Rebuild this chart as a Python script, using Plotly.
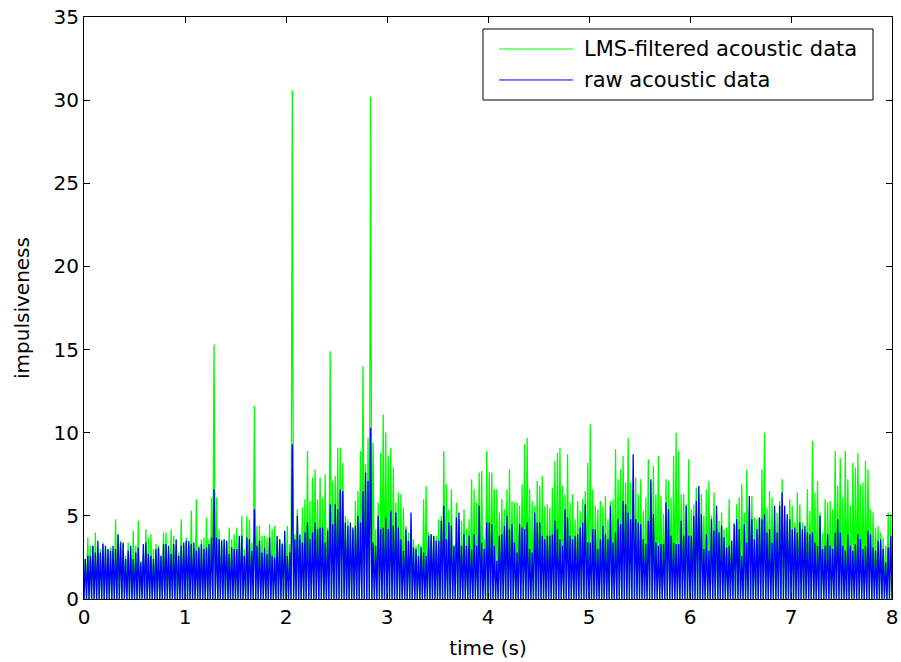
import plotly.graph_objects as go

# ---- data (peak impulsiveness per 0.025 s frame) ----
frames_per_second = 40
duration_s = 8

lms_filtered = [
    2.4,3.7,3.2,3.2,4.0,2.8,3.0,3.4,3.0,3.0, 3.1,2.9,4.8,3.8,3.5,3.3,2.6,3.4,2.6,4.1,
    3.2,4.7,2.3,2.7,4.2,3.7,3.9,3.0,3.3,3.2, 2.6,4.0,4.0,2.9,4.2,3.8,3.2,2.8,4.8,3.2,
    3.7,3.2,5.3,3.0,6.0,3.2,3.6,3.7,4.9,3.6, 6.1,15.3,6.1,4.2,3.6,3.5,3.4,4.3,3.6,3.9,
    4.3,3.2,5.0,3.0,5.0,4.8,3.4,11.6,4.4,4.4, 3.8,3.8,3.7,4.5,4.2,4.4,3.4,3.6,3.4,3.3,
    4.4,3.3,30.6,3.9,5.4,3.6,5.5,6.0,8.9,5.9, 7.3,7.8,6.0,7.3,6.1,7.5,4.3,14.9,7.1,7.4,
    9.1,9.1,8.2,5.0,4.8,4.4,4.2,5.9,6.5,8.9, 14.0,8.1,9.7,30.2,9.4,4.2,5.8,8.8,11.1,10.0,
    8.6,9.1,7.9,5.8,6.4,6.3,5.5,4.4,4.0,3.5, 3.6,3.2,3.3,3.2,6.0,6.8,4.0,3.9,3.8,3.8,
    4.8,5.0,8.9,6.9,5.4,6.6,3.2,5.8,4.8,4.7, 5.4,4.2,4.8,7.2,6.6,5.8,7.6,7.7,3.6,8.9,
    7.6,7.6,6.6,6.6,5.2,6.0,5.4,6.6,7.8,5.9, 5.8,5.8,5.6,6.9,9.3,9.7,6.6,5.9,5.6,7.1,
    6.8,7.4,5.6,5.7,5.5,6.7,8.3,8.8,9.1,6.8, 6.3,8.7,5.8,6.3,4.8,5.9,5.3,6.0,6.5,8.2,
    10.5,6.6,5.6,5.4,5.9,5.6,6.2,4.8,5.9,6.0, 9.0,7.2,7.8,8.6,7.0,9.7,7.0,6.5,7.3,6.3,
    7.2,5.3,6.1,8.4,7.0,8.0,6.3,8.6,6.2,5.1, 7.2,7.1,6.1,8.6,10.0,8.9,6.3,6.3,5.7,8.4,
    5.4,5.7,6.7,6.2,6.3,5.0,6.6,7.1,5.0,6.4, 5.2,4.7,5.2,4.2,4.3,6.0,3.5,4.6,5.7,6.1,
    6.9,5.2,7.8,5.5,6.2,4.9,4.8,4.9,7.8,10.0, 5.5,6.5,6.1,4.7,5.2,5.9,7.2,4.8,4.8,6.0,
    5.6,4.6,6.4,5.7,4.6,4.2,6.6,5.3,9.5,6.4, 7.1,5.2,4.0,6.0,5.8,5.9,5.4,8.9,6.8,8.5,
    6.1,8.9,7.2,5.6,8.2,7.9,8.8,6.9,7.0,8.3, 7.8,5.4,5.2,4.3,4.4,4.0,3.7,3.2,5.2,5.1,
]

raw_acoustic = [
    2.4,2.6,2.6,3.2,2.8,3.5,2.8,3.3,3.2,3.0, 2.9,3.2,3.0,3.9,3.4,3.4,2.4,2.9,3.2,2.4,
    2.8,3.1,2.2,3.3,3.4,2.7,2.6,2.4,3.0,3.1, 2.6,3.3,3.3,3.2,2.7,3.3,3.6,2.6,3.2,3.4,
    3.5,3.5,3.3,3.4,2.9,3.1,3.3,3.0,3.1,3.3, 3.7,6.6,3.7,3.6,3.5,3.6,3.5,2.7,3.1,3.0,
    3.0,3.8,3.8,2.6,3.7,3.6,2.9,5.4,3.2,3.5, 2.8,3.1,2.7,3.7,2.6,2.5,3.8,3.6,3.3,4.1,
    2.6,2.8,9.3,3.6,5.0,3.9,3.4,4.0,4.6,3.6, 4.0,4.6,4.2,4.3,4.3,3.4,4.1,5.7,4.5,5.7,
    5.4,6.6,6.5,4.6,4.4,4.6,4.3,4.4,5.0,4.6, 6.5,7.6,7.1,10.3,3.4,3.2,5.0,4.2,4.3,4.9,
    4.2,5.3,4.4,5.2,4.3,3.6,2.9,4.2,3.5,5.2, 3.1,3.0,2.6,3.1,2.8,2.6,3.8,3.9,3.8,3.5,
    3.5,4.7,5.6,3.6,4.6,4.4,3.2,4.9,5.2,3.2, 3.9,3.2,3.8,3.0,3.9,3.2,5.6,3.4,3.0,4.6,
    4.6,4.5,3.2,2.3,3.8,3.9,4.4,5.0,4.2,4.5, 3.4,2.8,4.5,4.3,4.2,4.6,3.0,2.8,5.2,4.6,
    4.6,3.8,3.6,3.8,3.8,3.9,4.7,4.2,3.6,3.2, 5.4,4.9,3.8,3.6,3.8,3.9,4.3,4.6,5.7,3.4,
    3.4,4.2,4.2,3.0,3.6,4.4,3.9,3.6,5.6,3.4, 4.0,4.8,4.5,5.9,5.7,5.2,4.8,8.7,4.8,4.6,
    4.5,3.6,3.3,4.7,7.2,5.1,3.4,3.2,3.3,3.3, 5.8,5.4,3.8,3.4,3.3,3.3,4.7,3.8,5.6,3.8,
    3.8,5.0,5.9,6.8,5.1,3.0,3.9,2.9,4.8,4.1, 5.6,4.0,4.4,3.7,3.1,3.2,3.5,4.5,4.8,4.2,
    2.6,4.5,3.4,6.2,4.8,3.6,4.2,4.9,4.8,5.1, 4.0,4.2,3.4,5.6,4.0,5.6,6.4,5.6,5.1,4.8,
    4.2,4.3,4.0,4.6,4.2,4.4,4.0,3.9,4.0,3.4, 3.2,5.0,3.0,3.2,3.9,3.2,3.0,4.0,4.8,4.0,
    3.2,2.9,3.9,3.2,2.9,3.3,3.9,3.6,3.0,3.2, 4.1,3.9,3.1,2.9,3.5,3.6,3.0,2.2,3.1,3.8,
]

series_names = ["LMS-filtered acoustic data", "raw acoustic data"]
series_colors = ["#00ff00", "#0000ff"]
x_ticks = list(range(0, 9))
y_ticks = list(range(0, 36, 5))


def zigzag(peaks):
    """Signal alternates between baseline and frame peak."""
    dt = 1.0 / frames_per_second
    xs, ys = [], []
    for k, p in enumerate(peaks):
        xs += [k * dt, (k + 0.5) * dt]
        ys += [0.0, p]
    xs.append(len(peaks) * dt)
    ys.append(0.0)
    return xs, ys


FONT = "DejaVu Sans"
fig = go.Figure()
for vals, name, col in zip([lms_filtered, raw_acoustic], series_names, series_colors):
    xs, ys = zigzag(vals)
    fig.add_trace(go.Scatter(x=xs, y=ys, mode="lines", name=name,
                             line=dict(color=col, width=1.3), showlegend=False,
                             hoverinfo="skip"))

axis_common = dict(showline=True, linecolor="black", linewidth=1, mirror="ticks",
                   ticks="inside", ticklen=6, tickcolor="black", tickwidth=1,
                   showgrid=False, zeroline=False, automargin=False,
                   tickfont=dict(family=FONT, size=20, color="black"))
fig.update_xaxes(range=[0, duration_s], tickvals=x_ticks, ticktext=[str(v) for v in x_ticks],
                 title=dict(text="time (s)", font=dict(family=FONT, size=20, color="black"),
                            standoff=12),
                 **axis_common)
fig.update_yaxes(range=[0, 35], tickvals=y_ticks, ticktext=[str(v) for v in y_ticks],
                 title=dict(text="impulsiveness", font=dict(family=FONT, size=20, color="black"),
                            standoff=18),
                 **axis_common)

# legend box (MATLAB style) drawn in paper coordinates
L, R, T, B = 0.4938, 0.9765, 0.9794, 0.8574
fig.add_shape(type="rect", xref="paper", yref="paper", x0=L, x1=R, y0=B, y1=T,
              line=dict(color="black", width=1), fillcolor="white", layer="above")
rows_y = [0.945, 0.8918]
for yy, name, col in zip(rows_y, series_names, series_colors):
    fig.add_shape(type="line", xref="paper", yref="paper", x0=0.5136, x1=0.6052,
                  y0=yy, y1=yy, line=dict(color=col, width=1), layer="above")
    fig.add_annotation(xref="paper", yref="paper", x=0.6163, y=yy, text=name,
                       showarrow=False, xanchor="left", yanchor="middle",
                       font=dict(family=FONT, size=21, color="black"))

fig.update_layout(width=901, height=662, margin=dict(l=84, r=9, t=17, b=63, autoexpand=False),
                  paper_bgcolor="white", plot_bgcolor="white",
                  font=dict(family=FONT, color="black"))

fig.write_html("out.html")
